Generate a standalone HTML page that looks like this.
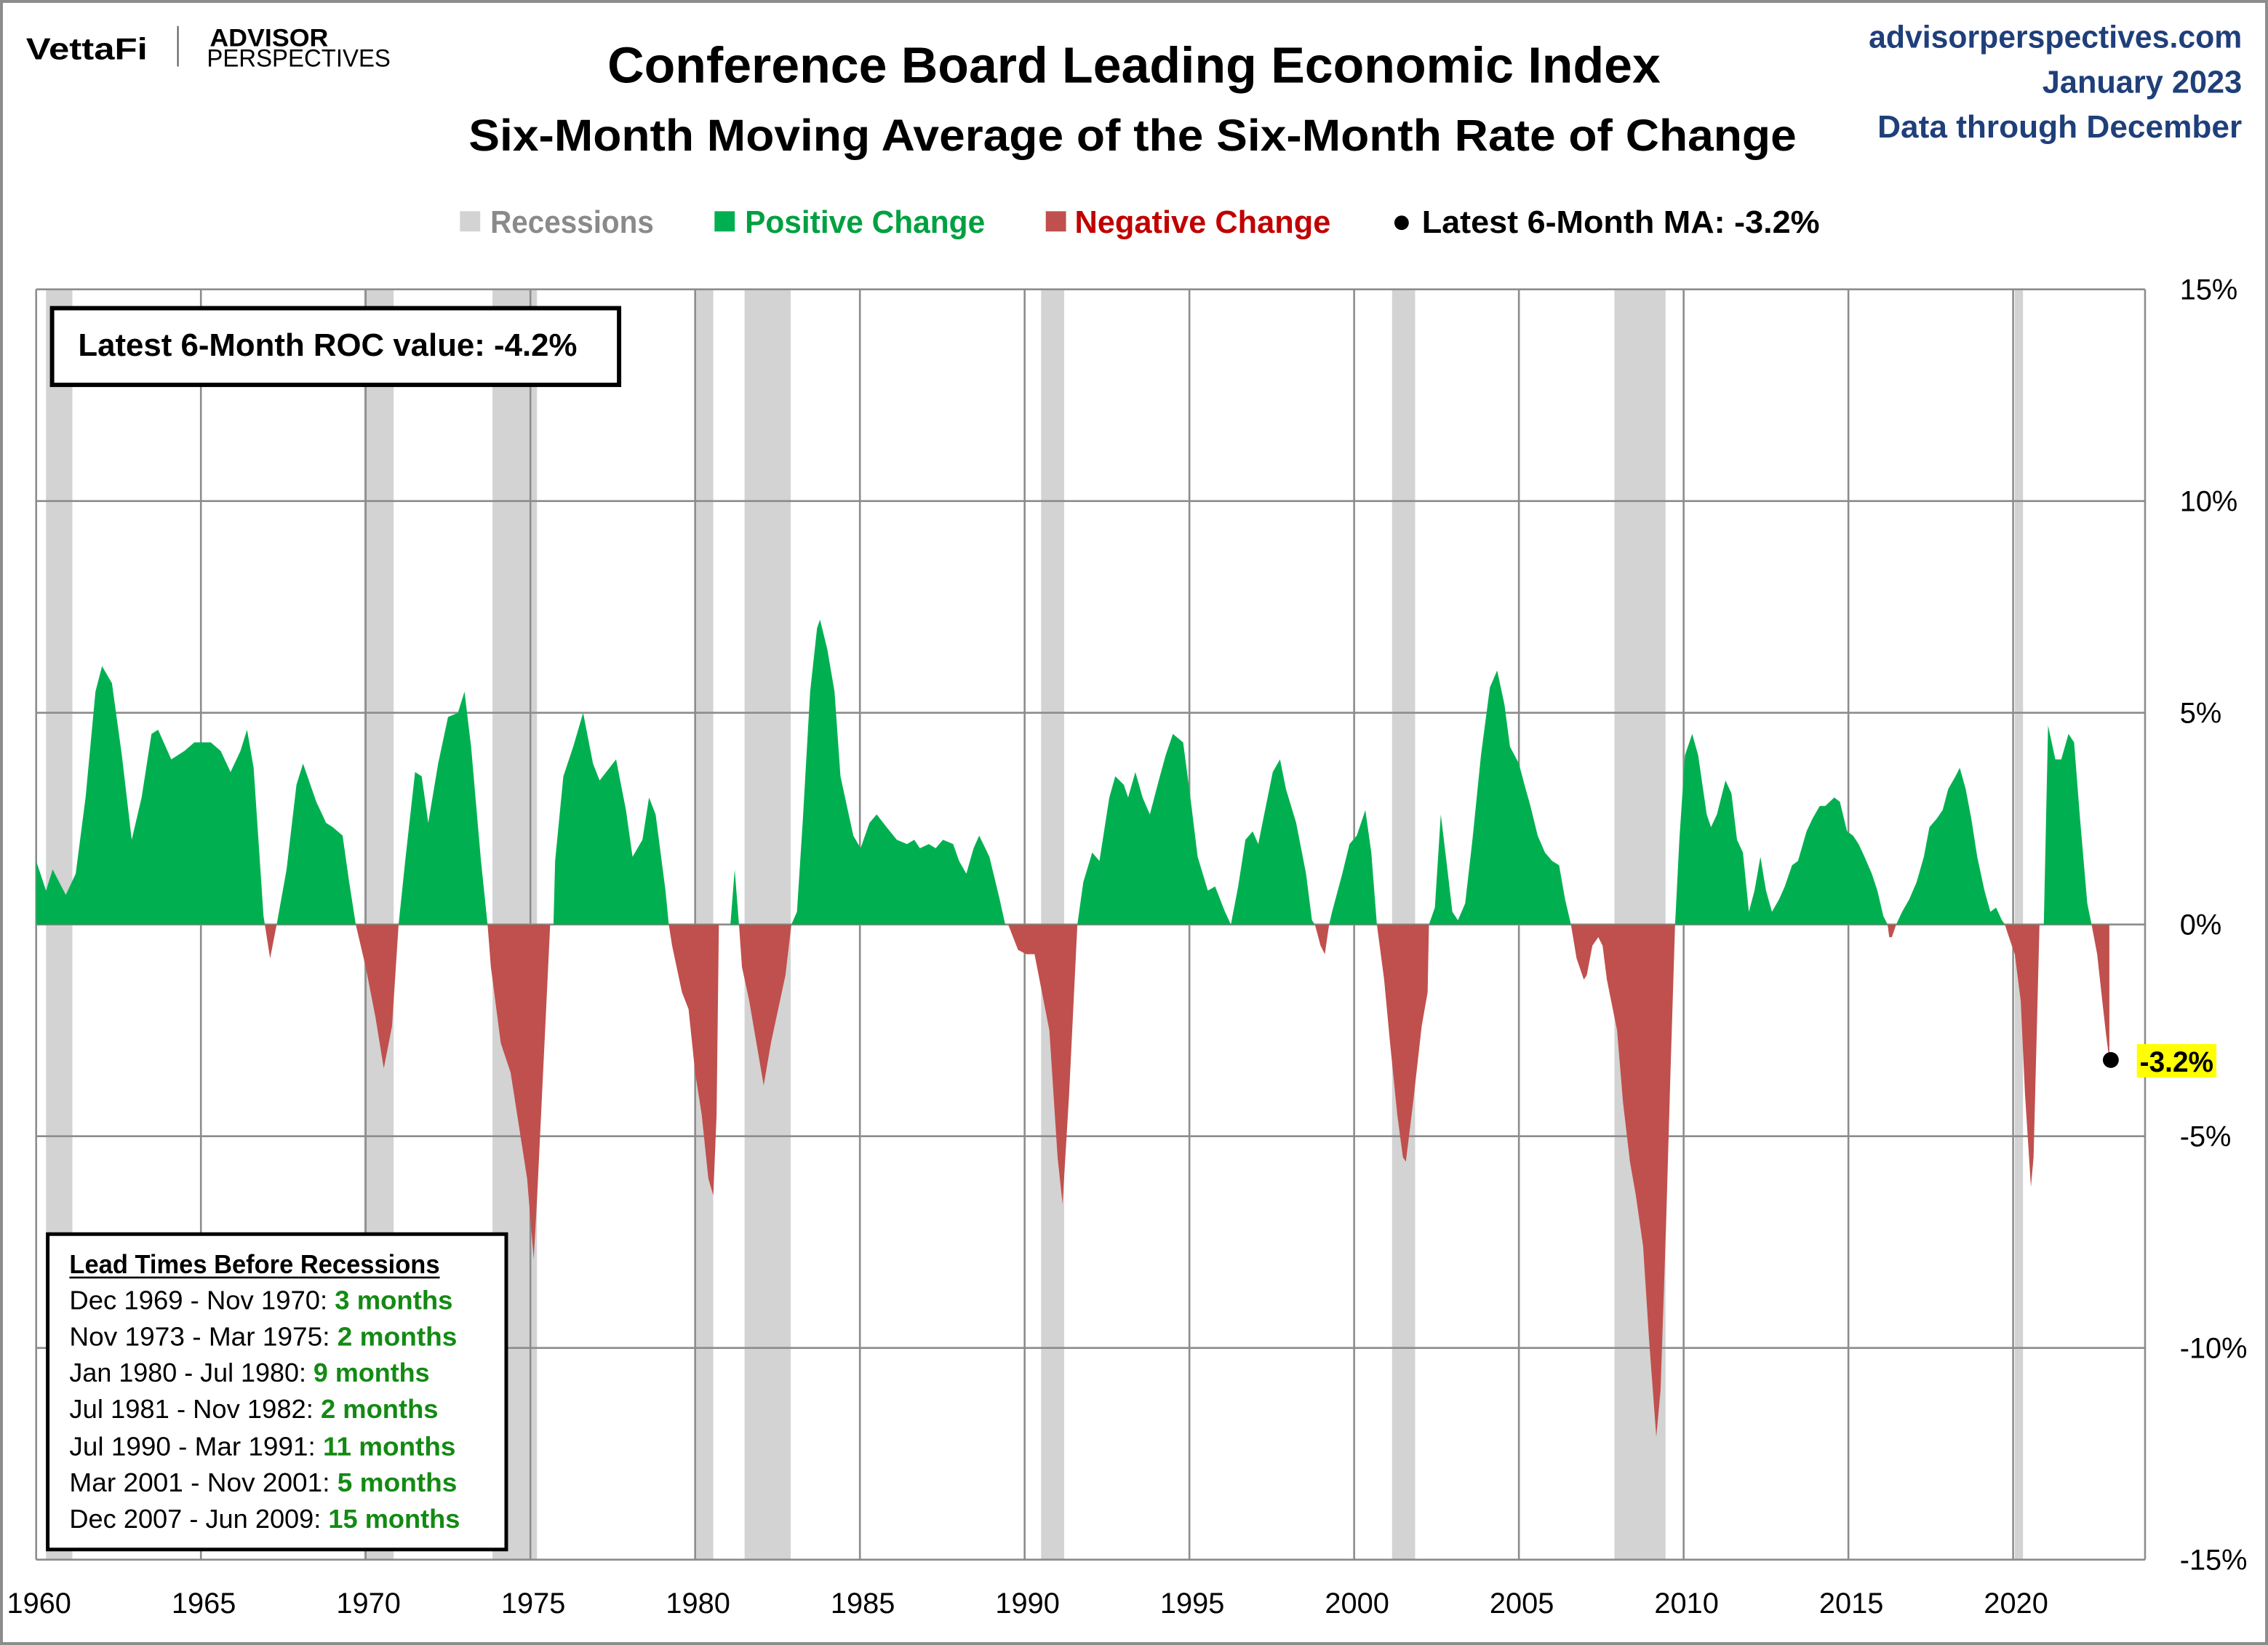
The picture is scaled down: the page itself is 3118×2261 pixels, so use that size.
<!DOCTYPE html>
<html><head><meta charset="utf-8"><style>
html,body{margin:0;padding:0;background:#fff;}
svg{display:block;}
text{font-family:"Liberation Sans",sans-serif;}
</style></head><body>
<svg id="chart" width="3118" height="2261" viewBox="0 0 1568 1137" preserveAspectRatio="none">
<rect x="1" y="1" width="1566" height="1135" fill="#fff" stroke="#8c8c8c" stroke-width="2"/>
<g>
<text x="18" y="41" font-size="21" font-weight="bold" textLength="84" lengthAdjust="spacingAndGlyphs">VettaFi</text>
<line x1="123" y1="18" x2="123" y2="46" stroke="#555" stroke-width="1"/>
<text x="145" y="32" font-size="17" font-weight="bold" textLength="82" lengthAdjust="spacingAndGlyphs">ADVISOR</text>
<text x="143" y="46" font-size="17" textLength="127" lengthAdjust="spacingAndGlyphs">PERSPECTIVES</text>
</g>
<text x="420" y="57" font-size="35" font-weight="bold" textLength="728" lengthAdjust="spacingAndGlyphs">Conference Board Leading Economic Index</text>
<text x="324" y="104" font-size="31" font-weight="bold" textLength="918" lengthAdjust="spacingAndGlyphs">Six-Month Moving Average of the Six-Month Rate of Change</text>
<g fill="#1f3f7a" font-weight="bold" font-size="22" text-anchor="end">
<text x="1550" y="33" textLength="258" lengthAdjust="spacingAndGlyphs">advisorperspectives.com</text>
<text x="1550" y="64" textLength="138" lengthAdjust="spacingAndGlyphs">January 2023</text>
<text x="1550" y="95" textLength="252" lengthAdjust="spacingAndGlyphs">Data through December</text>
</g>
<g font-size="22" font-weight="bold">
<g><rect x="318" y="146" width="14" height="14" fill="#d3d3d3"/><text x="339" y="161" fill="#8a8a8a" textLength="113" lengthAdjust="spacingAndGlyphs">Recessions</text></g>
<g><rect x="494" y="146" width="14" height="14" fill="#00b050"/><text x="515" y="161" fill="#00a040" textLength="166" lengthAdjust="spacingAndGlyphs">Positive Change</text></g>
<g><rect x="723" y="146" width="14" height="14" fill="#c0504d"/><text x="743" y="161" fill="#c00000" textLength="177" lengthAdjust="spacingAndGlyphs">Negative Change</text></g>
<g><circle cx="969" cy="154" r="5" fill="#000"/><text x="983" y="161" fill="#000" textLength="275" lengthAdjust="spacingAndGlyphs">Latest 6-Month MA: -3.2%</text></g>
</g>
<g id="plot"></g>
<g>
<rect x="36" y="213" width="392" height="53" fill="#fff" stroke="#000" stroke-width="3"/>
<text x="54" y="246" font-size="22" font-weight="bold" textLength="345" lengthAdjust="spacingAndGlyphs">Latest 6-Month ROC value: -4.2%</text>
</g>
<g font-size="18">
<rect x="33" y="853" width="317" height="218" fill="#fff" stroke="#000" stroke-width="2.5"/>
<text x="48" y="880" font-weight="bold" textLength="256" lengthAdjust="spacingAndGlyphs">Lead Times Before Recessions</text>
<line x1="48" y1="883" x2="304" y2="883" stroke="#000" stroke-width="1.3"/>
<text x="48" y="905" textLength="265" lengthAdjust="spacingAndGlyphs">Dec 1969 - Nov 1970: <tspan fill="#138a13" font-weight="bold">3 months</tspan></text>
<text x="48" y="930" textLength="268" lengthAdjust="spacingAndGlyphs">Nov 1973 - Mar 1975: <tspan fill="#138a13" font-weight="bold">2 months</tspan></text>
<text x="48" y="955" textLength="249" lengthAdjust="spacingAndGlyphs">Jan 1980 - Jul 1980: <tspan fill="#138a13" font-weight="bold">9 months</tspan></text>
<text x="48" y="980" textLength="255" lengthAdjust="spacingAndGlyphs">Jul 1981 - Nov 1982: <tspan fill="#138a13" font-weight="bold">2 months</tspan></text>
<text x="48" y="1006" textLength="267" lengthAdjust="spacingAndGlyphs">Jul 1990 - Mar 1991: <tspan fill="#138a13" font-weight="bold">11 months</tspan></text>
<text x="48" y="1031" textLength="268" lengthAdjust="spacingAndGlyphs">Mar 2001 - Nov 2001: <tspan fill="#138a13" font-weight="bold">5 months</tspan></text>
<text x="48" y="1056" textLength="270" lengthAdjust="spacingAndGlyphs">Dec 2007 - Jun 2009: <tspan fill="#138a13" font-weight="bold">15 months</tspan></text>
</g>
</svg>
<script>
const dates = [1960.0,1960.3,1960.5,1960.9,1961.2,1961.5,1961.8,1962.0,1962.3,1962.6,1962.9,1963.2,1963.5,1963.7,1964.1,1964.5,1964.8,1965.3,1965.6,1965.9,1966.2,1966.4,1966.6,1966.9,1967.0,1967.1,1967.3,1967.6,1967.9,1968.1,1968.5,1968.8,1969.0,1969.3,1969.5,1969.7,1970.0,1970.3,1970.55,1970.8,1971.0,1971.2,1971.5,1971.7,1971.9,1972.2,1972.5,1972.8,1973.0,1973.2,1973.5,1973.7,1973.8,1974.1,1974.4,1974.6,1974.9,1975.1,1975.2,1975.6,1975.7,1975.75,1976.0,1976.3,1976.6,1976.9,1977.1,1977.4,1977.6,1977.9,1978.1,1978.4,1978.6,1978.8,1979.1,1979.2,1979.3,1979.6,1979.8,1980.0,1980.2,1980.4,1980.55,1980.65,1980.72,1981.07,1981.2,1981.33,1981.42,1981.64,1981.86,1982.08,1982.30,1982.52,1982.74,1982.92,1983.09,1983.27,1983.49,1983.70,1983.79,1984.01,1984.23,1984.41,1984.80,1985.02,1985.29,1985.51,1985.81,1986.12,1986.43,1986.65,1986.82,1987.09,1987.30,1987.52,1987.83,1988.01,1988.23,1988.45,1988.62,1988.93,1989.24,1989.41,1989.5,1989.8,1990.05,1990.3,1990.5,1990.75,1991.0,1991.15,1991.35,1991.6,1991.78,1992.05,1992.27,1992.57,1992.75,1993.01,1993.14,1993.36,1993.58,1993.80,1994.07,1994.28,1994.50,1994.81,1995.03,1995.25,1995.56,1995.78,1996.08,1996.26,1996.48,1996.70,1996.92,1997.09,1997.27,1997.53,1997.75,1997.93,1998.24,1998.54,1998.72,1998.81,1998.98,1999.11,1999.24,1999.33,1999.64,1999.86,2000.08,2000.34,2000.52,2000.69,2000.91,2001.09,2001.31,2001.48,2001.57,2001.79,2002.05,2002.23,2002.27,2002.45,2002.63,2002.80,2002.98,2003.15,2003.37,2003.59,2003.85,2004.12,2004.34,2004.56,2004.73,2005.00,2005.17,2005.35,2005.57,2005.79,2006.01,2006.22,2006.40,2006.58,2006.75,2006.97,2007.06,2007.23,2007.41,2007.54,2007.67,2007.98,2008.16,2008.37,2008.55,2008.77,2008.95,2009.17,2009.30,2009.47,2009.60,2009.74,2009.87,2010.04,2010.26,2010.44,2010.70,2010.83,2011.01,2011.27,2011.45,2011.62,2011.80,2011.98,2012.15,2012.33,2012.50,2012.68,2012.90,2013.07,2013.29,2013.47,2013.73,2013.91,2014.13,2014.30,2014.57,2014.74,2014.96,2015.14,2015.31,2015.49,2015.71,2015.88,2016.06,2016.19,2016.24,2016.32,2016.45,2016.63,2016.85,2017.07,2017.29,2017.46,2017.68,2017.86,2018.03,2018.25,2018.38,2018.56,2018.73,2018.91,2019.13,2019.31,2019.48,2019.66,2019.75,2019.83,2020.05,2020.23,2020.36,2020.54,2020.62,2020.80,2020.93,2021.06,2021.28,2021.46,2021.68,2021.85,2022.03,2022.25,2022.38,2022.55,2022.69,2022.82,2022.92];
const values = [1.5,0.8,1.3,0.7,1.2,3.0,5.5,6.1,5.7,4.0,2.0,3.0,4.5,4.6,3.9,4.1,4.3,4.3,4.1,3.6,4.1,4.6,3.7,0.2,-0.3,-0.8,0,1.3,3.3,3.8,2.9,2.4,2.3,2.1,1.0,0,-1.0,-2.2,-3.4,-2.4,0,1.5,3.6,3.5,2.4,3.8,4.9,5.0,5.5,4.2,1.5,0,-1.0,-2.8,-3.5,-4.5,-6.0,-7.9,-6.5,0,0,1.5,3.5,4.2,5.0,3.8,3.4,3.7,3.9,2.7,1.6,2.0,3.0,2.6,0.8,0,-0.5,-1.6,-2.0,-3.5,-4.5,-6.0,-6.4,-4.5,0,0,1.3,0,-1.0,-1.8,-2.8,-3.8,-2.8,-2.0,-1.2,0,0.3,2.5,5.5,7.0,7.2,6.5,5.5,3.5,2.1,1.8,2.4,2.6,2.3,2.0,1.9,2.0,1.8,1.9,1.8,2.0,1.9,1.5,1.2,1.8,2.1,1.6,0.6,0,0,-0.6,-0.7,-0.7,-1.5,-2.5,-5.5,-6.6,-4.0,0,1.0,1.7,1.5,3.0,3.5,3.3,3.0,3.6,3.0,2.6,3.4,4.0,4.5,4.3,3.0,1.6,0.8,0.9,0.3,0.0,0.9,2.0,2.2,1.9,2.6,3.6,3.9,3.2,2.4,1.2,0.1,0,-0.5,-0.7,0,0.3,1.2,1.9,2.1,2.7,1.7,0,-1.3,-2.8,-4.5,-5.5,-5.6,-4.2,-2.4,-1.6,0,0.4,2.6,1.5,0.3,0.1,0.5,2.0,4.0,5.6,6.0,5.2,4.2,3.8,3.3,2.8,2.1,1.7,1.5,1.4,0.6,0,-0.8,-1.3,-1.2,-0.5,-0.3,-0.5,-1.3,-2.5,-4.2,-5.6,-6.4,-7.6,-9.8,-12.1,-11.0,-7.0,-3.5,0,2.0,4.0,4.5,4.0,2.6,2.3,2.6,3.4,3.1,2.0,1.7,0.3,0.8,1.6,0.8,0.3,0.6,0.9,1.4,1.5,2.2,2.5,2.8,2.8,3.0,2.9,2.2,2.1,1.9,1.6,1.2,0.8,0.2,0,-0.3,-0.3,0,0.3,0.6,1.0,1.6,2.3,2.5,2.7,3.2,3.5,3.7,3.2,2.5,1.6,0.8,0.3,0.4,0.1,0,-0.2,-0.7,-1.8,-4.0,-6.2,-5.5,0,0,4.7,3.9,3.9,4.5,4.3,2.5,0.5,0,-0.7,-1.7,-2.6,-3.2];
const recessionStarts = [1960.3,1969.95,1973.85,1980.0,1981.5,1990.5,2001.15,2007.9,2020.05];
const recessionEnds   = [1961.1,1970.85,1975.2,1980.55,1982.9,1991.2,2001.85,2009.45,2020.3];
const yTicks = [15,10,5,0,-5,-10,-15];
const yTickLabels = ["15%","10%","5%","0%","-5%","-10%","-15%"];
const xTicks = [1960,1965,1970,1975,1980,1985,1990,1995,2000,2005,2010,2015,2020];
const latestValue = -3.2;

const NS = "http://www.w3.org/2000/svg";
const L = 25, R = 1483, T = 200, B = 1078;
const X = d => L + (d - 1960) * 22.78;
const Y = v => T + (15 - v) / 30 * (B - T);
const plot = document.getElementById('plot');
function mk(tag, attrs, parent) {
  const e = document.createElementNS(NS, tag);
  for (const k in attrs) e.setAttribute(k, attrs[k]);
  (parent || plot).appendChild(e);
  return e;
}
recessionStarts.forEach((s, i) => {
  const r = mk('rect', {x: X(s), y: T, width: X(recessionEnds[i]) - X(s), height: B - T, fill: '#d3d3d3'});
  
  
});
yTicks.forEach((v, i) => {
  const ln = mk('line', {x1: L, x2: R, y1: Y(v), y2: Y(v), stroke: '#8c8c8c', 'stroke-width': 1.3});
  
  
  const t = mk('text', {x: 1507, y: Y(v) + 7, 'font-size': 20, fill: '#000'});
  t.textContent = yTickLabels[i];
  
  
});
xTicks.forEach(d => {
  const ln = mk('line', {x1: X(d), x2: X(d), y1: T, y2: B, stroke: '#8c8c8c', 'stroke-width': 1.3});
  
  
  const t = mk('text', {x: X(d) + 2, y: 1115, 'font-size': 20, 'text-anchor': 'middle', fill: '#000'});
  t.textContent = String(d);
  
  
});
mk('line', {x1: R, x2: R, y1: T, y2: B, stroke: '#8c8c8c', 'stroke-width': 1.3});
const defs = mk('defs', {});
const cp1 = mk('clipPath', {id: 'pos'}, defs); mk('rect', {x: 0, y: 0, width: 1568, height: Y(0)}, cp1);
const cp2 = mk('clipPath', {id: 'neg'}, defs); mk('rect', {x: 0, y: Y(0), width: 1568, height: 1137}, cp2);
let d = 'M' + X(dates[0]) + ',' + Y(0);
dates.forEach((dt, i) => { d += ' L' + X(dt).toFixed(2) + ',' + Y(values[i]).toFixed(2); });
d += ' L' + X(dates[dates.length - 1]) + ',' + Y(0) + ' Z';
const pos = mk('path', {d: d, fill: '#00b050', 'clip-path': 'url(#pos)'});


const neg = mk('path', {d: d, fill: '#c0504d', 'clip-path': 'url(#neg)'});


const lx = X(dates[dates.length - 1]), ly = Y(latestValue);
const dot = mk('circle', {cx: lx + 1, cy: ly, r: 5.5, fill: '#000'});


const hl = mk('rect', {x: lx + 19, y: ly - 11, width: 55, height: 23, fill: '#ffff00'});


const lt = mk('text', {x: lx + 21, y: ly + 8, 'font-size': 20, 'font-weight': 'bold', fill: '#000', textLength: 51, lengthAdjust: 'spacingAndGlyphs'});
lt.textContent = latestValue.toFixed(1) + '%';


</script>
</body></html>
